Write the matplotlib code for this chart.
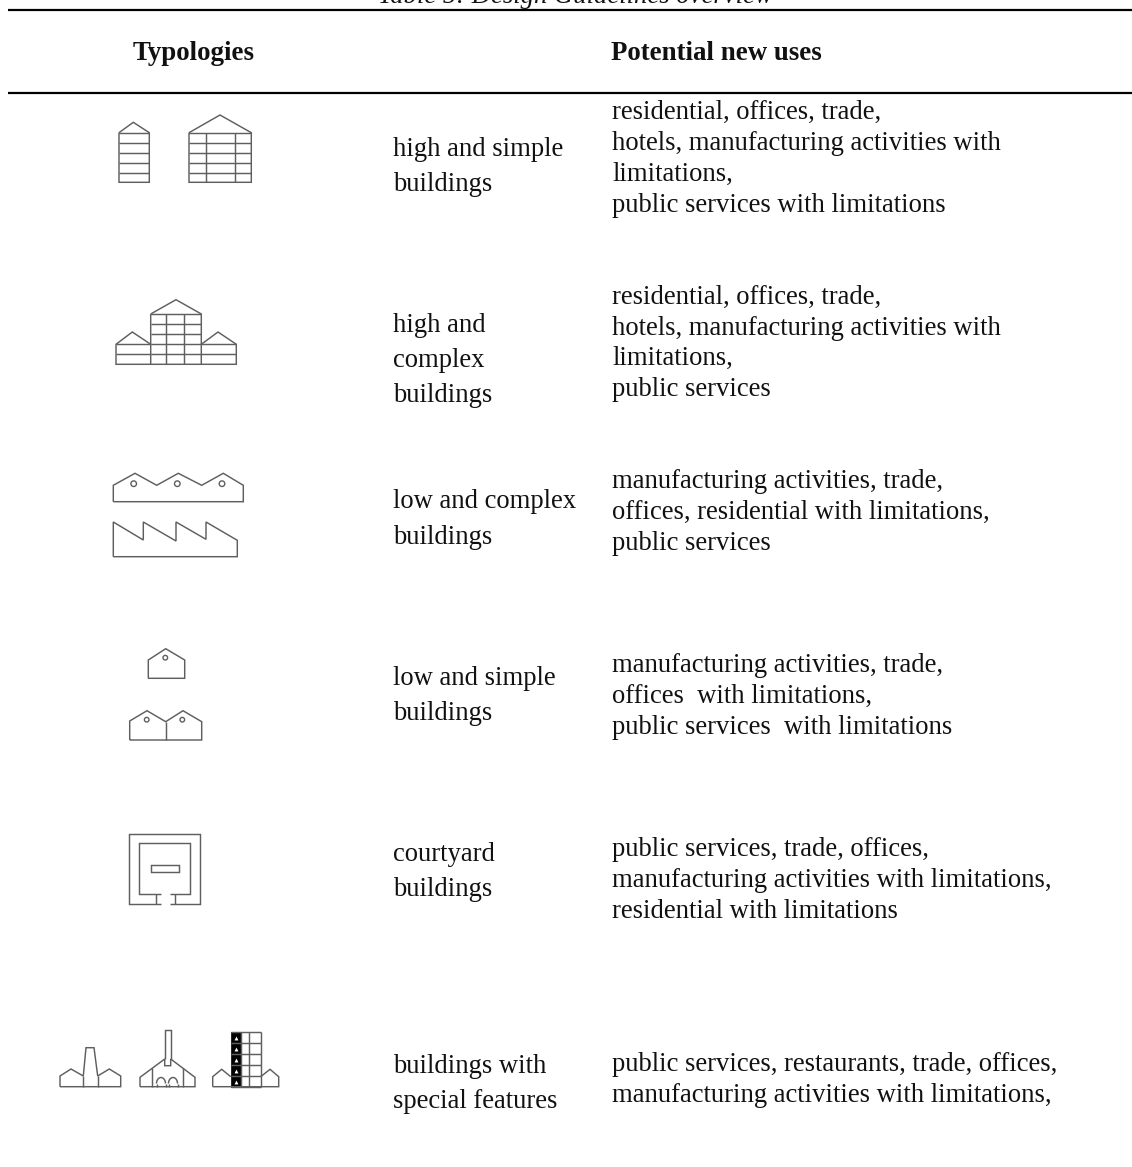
#!/usr/bin/env python3
# -*- coding: utf-8 -*-
import matplotlib
matplotlib.use("Agg")
import matplotlib.pyplot as plt
from matplotlib.patches import Circle, Rectangle, Arc

W, H = 1132, 1167
SERIF = "Liberation Serif"
FS = 19.2
ICON = "#5f5f5f"
INK = "#111111"

title = "Table 5: Design Guidelines overview"
headers = [("Typologies", 133), ("Potential new uses", 611)]

# (text, baseline y) for the two text columns
typologies = [
    ("high and simple", 156), ("buildings", 191),
    ("high and", 332), ("complex", 367), ("buildings", 402),
    ("low and complex", 508), ("buildings", 544),
    ("low and simple", 685), ("buildings", 720),
    ("courtyard", 861), ("buildings", 896),
    ("buildings with", 1073), ("special features", 1108),
]
uses = [
    ("residential, offices, trade,", 119),
    ("hotels, manufacturing activities with", 150),
    ("limitations,", 181),
    ("public services with limitations", 212),
    ("residential, offices, trade,", 304),
    ("hotels, manufacturing activities with", 335),
    ("limitations,", 365),
    ("public services", 396),
    ("manufacturing activities, trade,", 488),
    ("offices, residential with limitations,", 519),
    ("public services", 550),
    ("manufacturing activities, trade,", 672),
    ("offices  with limitations,", 703),
    ("public services  with limitations", 734),
    ("public services, trade, offices,", 856),
    ("manufacturing activities with limitations,", 887),
    ("residential with limitations", 918),
    ("public services, restaurants, trade, offices,", 1071),
    ("manufacturing activities with limitations,", 1102),
]

# icon outlines, traced in page pixels
# row 1
small_tower = [(119, 132.7), (133.3, 122.3), (149.3, 132.7), (149.3, 182.3), (119, 182.3), (119, 132.7)]
small_floors = [132.7, 142.7, 152.7, 162.7, 172.7]
wide_tower = [(189, 132.7), (220, 115), (251.3, 132.7), (251.3, 182.3), (189, 182.3), (189, 132.7)]
wide_floors = [132.7, 142.7, 152.7, 162.7, 172.7]
wide_cols = [205.7, 234.7]
# row 2
mid_block = [(150.7, 314), (176, 299.7), (201.3, 314), (201.3, 364.3), (150.7, 364.3), (150.7, 314)]
mid_floors = [314, 324, 334, 344.3, 354.3]
mid_cols = [166.3, 184.3]
left_wing = [(150.7, 344.3), (132.3, 332), (116, 344.3), (116, 364.3), (150.7, 364.3)]
right_wing = [(201.3, 344.3), (218, 332), (236.3, 344.3), (236.3, 364.3), (201.3, 364.3)]
wing_floors = [(116, 150.7, 344.3), (116, 150.7, 354.3), (201.3, 236.3, 344.3), (201.3, 236.3, 354.3)]
# row 3
shed_round = [(113.3, 501.7), (113.3, 485.3), (135, 473.3), (156.7, 485.3), (178.3, 473.3), (201.7, 485.3),
              (223.3, 473.3), (243.3, 485.3), (243.3, 501.7), (113.3, 501.7)]
shed_holes = [(133.7, 483.7), (177.3, 483.7), (222, 483.7)]
saw_teeth = [(113.3, 556.7), (113.3, 522), (143.3, 540), (143.3, 522), (176, 541), (176, 522), (206, 539.3),
             (206, 522), (237.3, 540.3), (237.3, 556.7), (113.3, 556.7)]
# row 4
one_house = [(148.3, 678.3), (148.3, 660), (165.7, 648.7), (184.7, 660), (184.7, 678.3), (148.3, 678.3)]
one_hole = [(165.3, 657.7)]
two_house = [(129.7, 740), (129.7, 721), (147, 710.7), (165.7, 721.7), (183, 710.7), (201.7, 721.7),
             (201.7, 740), (129.7, 740)]
two_wall = [(165.7, 721.7), (165.7, 740)]
two_holes = [(146.7, 719.7), (182.3, 719.7)]
# row 5
court_lines = [
    [(161.3, 903.7), (128.7, 903.7), (128.7, 833.7), (200.3, 833.7), (200.3, 903.7), (169.7, 903.7)],
    [(161.3, 893.7), (139, 893.7), (139, 843.3), (190.3, 843.3), (190.3, 893.7), (169.7, 893.7)],
    [(156, 893.7), (156, 903.7)],
    [(175, 893.7), (175, 903.7)],
]
court_box = (151, 864.7, 27.7, 7.3)
# row 6
stack_lines = [
    [(60, 1086.7), (60, 1076), (71, 1069), (83.3, 1076), (86, 1047.7), (94, 1047.7), (97.7, 1076),
     (109.3, 1069), (120.7, 1076), (120.7, 1086.7), (60, 1086.7)],
    [(83.3, 1076), (83.3, 1086.7)],
    [(97.7, 1076), (97.7, 1086.7)],
]
chimney_lines = [
    [(140, 1086.7), (140, 1077.3), (164.7, 1059), (164.7, 1065.7), (170.7, 1065.7), (170.7, 1059),
     (195, 1077.3), (195, 1086.7), (140, 1086.7)],
    [(164.7, 1059), (164.7, 1029.7), (170.7, 1029.7), (170.7, 1059)],
    [(152.3, 1068), (152.3, 1086.7)],
    [(183.3, 1068), (183.3, 1086.7)],
]
arches = [(161, 1083.5), (173, 1083.5)]
grid_side = [(212.7, 1086.7), (212.7, 1076.7), (221.7, 1069.3), (230.7, 1076.7)]
grid_side2 = [(260.7, 1076.7), (270, 1069.3), (278.7, 1076.7), (278.7, 1086.7), (212.7, 1086.7)]
grid_black = (230.7, 1032.3, 10.7, 54.4)
grid_floors = [1032.3, 1043, 1054, 1065, 1076, 1086.7]
grid_cols = [241.3, 249.3, 260.7]
grid_marks = [1037.7, 1048.5, 1059.5, 1070.5, 1081.5]

fig = plt.figure(figsize=(W / 100, H / 100), dpi=100)
ax = fig.add_axes([0, 0, 1, 1])
ax.set_xlim(0, W)
ax.set_ylim(H, 0)
ax.axis("off")


def outline(pts, lw=1.05):
    ax.plot([p[0] for p in pts], [p[1] for p in pts], color=ICON, lw=lw,
            solid_joinstyle="miter", solid_capstyle="butt")


def holes(pts, r=2.8):
    for p in pts:
        ax.add_patch(Circle(p, r, fill=False, ec=ICON, lw=1.0))


def grid(x0, x1, y0, y1, floors, cols):
    for y in floors:
        outline([(x0, y), (x1, y)])
    for x in cols:
        outline([(x, y0), (x, y1)])


# rules and texts
for y in (10, 92.7):
    ax.plot([8, W], [y, y], color="black", lw=1.6, solid_capstyle="butt")

# the title is cut by the top edge in the reference too
ax.text(575, 3, title, family=SERIF, style="italic", fontsize=FS, color=INK, ha="center", va="baseline")
for txt, x in headers:
    ax.text(x, 60, txt, family=SERIF, weight="bold", fontsize=19.4, color=INK, ha="left", va="baseline")
for txt, y in typologies:
    ax.text(393, y, txt, family=SERIF, fontsize=FS, color=INK, ha="left", va="baseline")
for txt, y in uses:
    ax.text(612, y, txt, family=SERIF, fontsize=FS, color=INK, ha="left", va="baseline")

# row 1
outline(small_tower)
grid(119, 149.3, 132.7, 182.3, small_floors, [])
outline(wide_tower)
grid(189, 251.3, 132.7, 182.3, wide_floors, wide_cols)

# row 2
outline(mid_block)
grid(150.7, 201.3, 314, 364.3, mid_floors, mid_cols)
outline(left_wing)
outline(right_wing)
for x0, x1, y in wing_floors:
    outline([(x0, y), (x1, y)])

# row 3
outline(shed_round)
holes(shed_holes)
outline(saw_teeth)

# row 4
outline(one_house)
holes(one_hole, 2.3)
outline(two_house)
outline(two_wall)
holes(two_holes, 2.3)

# row 5
for line in court_lines:
    outline(line)
ax.add_patch(Rectangle(court_box[:2], court_box[2], court_box[3], fill=False, ec=ICON, lw=1.05))

# row 6
for line in stack_lines:
    outline(line)
for line in chimney_lines:
    outline(line)
for x, y in arches:
    ax.add_patch(Arc((x, y), 9, 12, theta1=180, theta2=360, color=ICON, lw=1.05))
    outline([(x - 4.5, y), (x - 4.5, 1086.7)])
    outline([(x + 4.5, y), (x + 4.5, 1086.7)])
outline(grid_side)
outline(grid_side2)
ax.add_patch(Rectangle(grid_black[:2], grid_black[2], grid_black[3], fc="black", ec="black", lw=0.5))
grid(230.7, 260.7, 1032.3, 1086.7, grid_floors, grid_cols)
ax.plot([236] * len(grid_marks), grid_marks, ls="none", marker="^", ms=2.8, color="white", mew=0)

fig.savefig("out.png", dpi=100)
